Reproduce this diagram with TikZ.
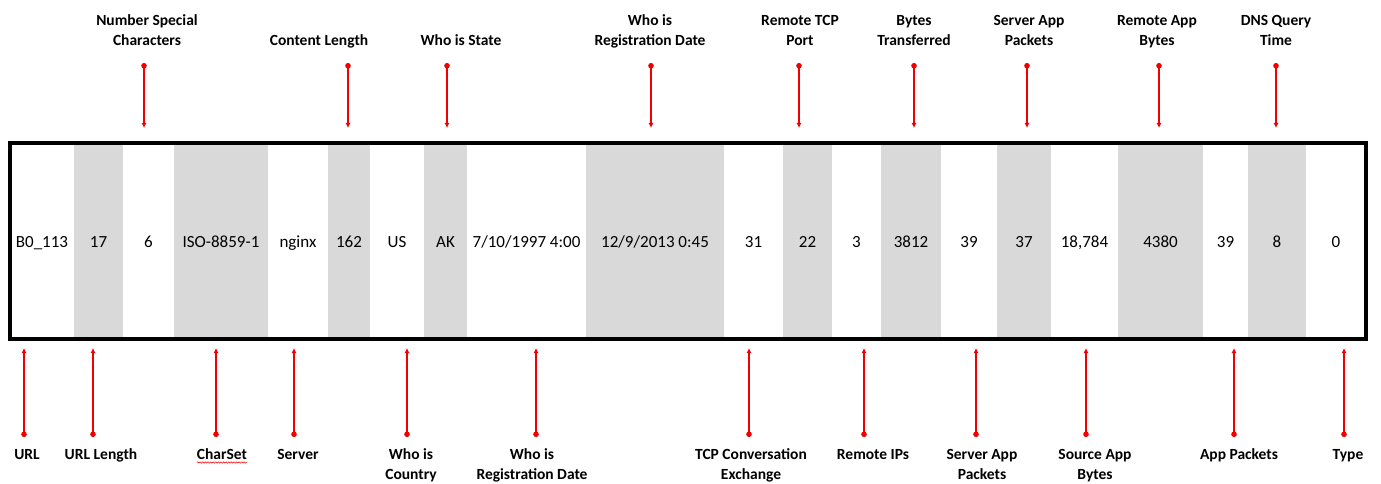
\documentclass[tikz,border=0pt]{standalone}
\usepackage{fontspec}
\setmainfont{Carlito}
\usetikzlibrary{arrows.meta,decorations.pathmorphing}
\definecolor{cellgray}{HTML}{D9D9D9}
\definecolor{markred}{HTML}{F20000}

\begin{document}
\begin{tikzpicture}[x=1pt,y=-1pt,
  cell/.style={inner sep=0pt, minimum height=196pt, text height=11.5pt, text depth=3.5pt,
    font=\fontsize{17}{20}\selectfont},
  gcell/.style={cell, fill=cellgray},
  % labels are placed by the baseline of their last line
  lbl/.style={font=\bfseries\fontsize{15.5}{20}\selectfont, align=center, inner sep=0pt,
    anchor=base},
  fieldarrow/.style={draw=markred, line width=1.4pt,
    {Circle[length=5.5pt]}-{Latex[length=5pt,width=5pt]}}
]
\useasboundingbox (0,0) rectangle (1381,484);

% record cells, alternating white / grey columns
\node[cell,  minimum width=64pt] (c1)  at (42,243)    {B0\_113};
\node[gcell, minimum width=49pt] (c2)  at (98.5,243)  {17};
\node[cell,  minimum width=51pt] (c3)  at (148.5,243) {6};
\node[gcell, minimum width=94pt] (c4)  at (221,243)   {ISO-8859-1};
\node[cell,  minimum width=60pt] (c5)  at (298,243)   {nginx};
\node[gcell, minimum width=42pt] (c6)  at (349,243)   {162};
\node[cell,  minimum width=54pt] (c7)  at (397,243)   {US};
\node[gcell, minimum width=43pt] (c8)  at (445.5,243) {AK};
\node[cell,  minimum width=119pt] (c9) at (526.5,243) {7/10/1997 4:00};
\node[gcell, minimum width=138pt] (c10) at (655,243)  {12/9/2013 0:45};
\node[cell,  minimum width=59pt] (c11) at (753.5,243) {31};
\node[gcell, minimum width=49pt] (c12) at (807.5,243) {22};
\node[cell,  minimum width=49pt] (c13) at (856.5,243) {3};
\node[gcell, minimum width=60pt] (c14) at (911,243)   {3812};
\node[cell,  minimum width=56pt] (c15) at (969,243)   {39};
\node[gcell, minimum width=54pt] (c16) at (1024,243)  {37};
\node[cell,  minimum width=67pt] (c17) at (1084.5,243) {18,784};
\node[gcell, minimum width=85pt] (c18) at (1160.5,243) {4380};
\node[cell,  minimum width=45pt] (c19) at (1225.5,243) {39};
\node[gcell, minimum width=58pt] (c20) at (1277,243)  {8};
\node[cell,  minimum width=60pt] (c21) at (1336,243)  {0};

% heavy frame round the record
\node[draw, line width=4pt, minimum width=1356pt, minimum height=196pt, inner sep=0pt]
  (record) at (688,241) {};

% field names above the record
\node[lbl] (t1) at (147,46)  {Number Special\\Characters};
\node[lbl] (t2) at (319,46)  {Content Length};
\node[lbl] (t3) at (461,46)  {Who is State};
\node[lbl] (t4) at (650,46)  {Who is\\Registration Date};
\node[lbl] (t5) at (800,46)  {Remote TCP\\Port};
\node[lbl] (t6) at (914,46)  {Bytes\\Transferred};
\node[lbl] (t7) at (1029,46) {Server App\\Packets};
\node[lbl] (t8) at (1157,46) {Remote App\\Bytes};
\node[lbl] (t9) at (1276,46) {DNS Query\\Time};

% field names below the record
\node[lbl] (b1)  at (27,459)   {URL};
\node[lbl] (b2)  at (101,459)  {URL Length};
\node[lbl] (b3)  at (222,459)  {CharSet};
\node[lbl] (b4)  at (298,459)  {Server};
\node[lbl] (b5)  at (411,479)  {Who is\\Country};
\node[lbl] (b6)  at (532,479)  {Who is\\Registration Date};
\node[lbl] (b7)  at (751,479)  {TCP Conversation\\Exchange};
\node[lbl] (b8)  at (873,459)  {Remote IPs};
\node[lbl] (b9)  at (982,479)  {Server App\\Packets};
\node[lbl] (b10) at (1095,479) {Source App\\Bytes};
\node[lbl] (b11) at (1239,459) {App Packets};
\node[lbl] (b12) at (1348,459) {Type};

% wavy underline under CharSet
\draw[markred, line width=0.5pt, decorate,
  decoration={snake, amplitude=0.7pt, segment length=2.6pt}]
  ([yshift=-3.5pt]b3.base west) -- ([yshift=-3.5pt]b3.base east);

% pointer ends above the record
\foreach \n/\x in {1/144, 2/348, 3/447, 4/651, 5/799, 6/914, 7/1027, 8/1159, 9/1276} {
  \coordinate (ts\n) at (\x,63);
  \coordinate (te\n) at (\x,128);
}
% pointer ends below the record
\foreach \n/\x in {1/24, 2/93, 3/216, 4/294, 5/407, 6/536, 7/749, 8/864, 9/976, 10/1086, 11/1234, 12/1344} {
  \coordinate (bs\n) at (\x,437);
  \coordinate (be\n) at (\x,348);
}

\foreach \n in {1,...,9} { \draw[fieldarrow] (ts\n) -- (te\n); }
\foreach \n in {1,...,12} { \draw[fieldarrow] (bs\n) -- (be\n); }
\end{tikzpicture}
\end{document}
